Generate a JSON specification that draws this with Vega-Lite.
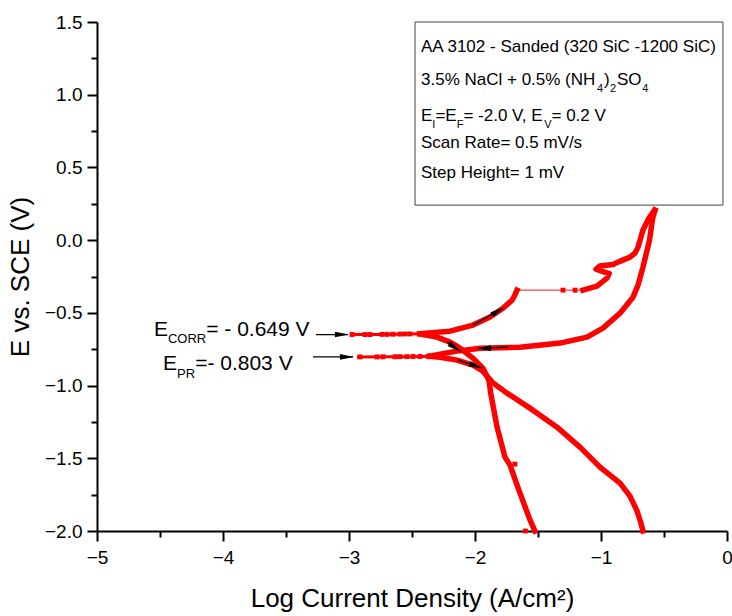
{
  "$schema": "https://vega.github.io/schema/vega-lite/v6.json",
  "width": 630,
  "height": 509,
  "autosize": {"type": "none"},
  "padding": {"left": 97, "top": 22, "right": 5, "bottom": 85},
  "background": "white",
  "config": {
    "view": {"stroke": null},
    "font": "Liberation Sans",
    "axis": {
      "grid": false,
      "domainColor": "black",
      "domainWidth": 2,
      "tickColor": "black",
      "tickWidth": 2,
      "labelFont": "Liberation Sans",
      "labelFontSize": 19,
      "labelColor": "black",
      "titleFont": "Liberation Sans",
      "titleFontSize": 26,
      "titleFontWeight": "normal",
      "titleColor": "black",
      "labelOverlap": false,
      "labelBound": false,
      "labelFlush": false
    }
  },
  "datasets": {
    "curves": [
      {"s": "ecorr_flat", "i": 0, "x": -2.99, "y": -0.649},
      {"s": "ecorr_flat", "i": 1, "x": -2.7, "y": -0.648},
      {"s": "ecorr_flat", "i": 2, "x": -2.44, "y": -0.643},

      {"s": "anodic_fwd", "i": 0, "x": -2.44, "y": -0.643},
      {"s": "anodic_fwd", "i": 1, "x": -2.198, "y": -0.626},
      {"s": "anodic_fwd", "i": 2, "x": -2.016, "y": -0.584},
      {"s": "anodic_fwd", "i": 3, "x": -1.881, "y": -0.529},
      {"s": "anodic_fwd", "i": 4, "x": -1.778, "y": -0.468},
      {"s": "anodic_fwd", "i": 5, "x": -1.706, "y": -0.413},
      {"s": "anodic_fwd", "i": 6, "x": -1.685, "y": -0.38},
      {"s": "anodic_fwd", "i": 7, "x": -1.667, "y": -0.344},

      {"s": "anodic_up", "i": 0, "x": -1.143, "y": -0.344},
      {"s": "anodic_up", "i": 1, "x": -1.032, "y": -0.316},
      {"s": "anodic_up", "i": 2, "x": -0.952, "y": -0.261},
      {"s": "anodic_up", "i": 3, "x": -0.935, "y": -0.23},
      {"s": "anodic_up", "i": 4, "x": -0.99, "y": -0.215},
      {"s": "anodic_up", "i": 5, "x": -1.04, "y": -0.2},
      {"s": "anodic_up", "i": 6, "x": -1.01, "y": -0.178},
      {"s": "anodic_up", "i": 7, "x": -0.905, "y": -0.168},
      {"s": "anodic_up", "i": 8, "x": -0.865, "y": -0.151},
      {"s": "anodic_up", "i": 9, "x": -0.77, "y": -0.117},
      {"s": "anodic_up", "i": 10, "x": -0.73, "y": -0.089},
      {"s": "anodic_up", "i": 11, "x": -0.706, "y": -0.048},
      {"s": "anodic_up", "i": 12, "x": -0.69, "y": 0.0},
      {"s": "anodic_up", "i": 13, "x": -0.667, "y": 0.07},
      {"s": "anodic_up", "i": 14, "x": -0.62, "y": 0.15},
      {"s": "anodic_up", "i": 15, "x": -0.575, "y": 0.206},

      {"s": "reverse", "i": 0, "x": -0.571, "y": 0.206},
      {"s": "reverse", "i": 1, "x": -0.59, "y": 0.15},
      {"s": "reverse", "i": 2, "x": -0.615, "y": 0.0},
      {"s": "reverse", "i": 3, "x": -0.667, "y": -0.186},
      {"s": "reverse", "i": 4, "x": -0.706, "y": -0.309},
      {"s": "reverse", "i": 5, "x": -0.746, "y": -0.392},
      {"s": "reverse", "i": 6, "x": -0.849, "y": -0.502},
      {"s": "reverse", "i": 7, "x": -0.984, "y": -0.605},
      {"s": "reverse", "i": 8, "x": -1.111, "y": -0.667},
      {"s": "reverse", "i": 9, "x": -1.325, "y": -0.708},
      {"s": "reverse", "i": 10, "x": -1.643, "y": -0.736},
      {"s": "reverse", "i": 11, "x": -1.96, "y": -0.743},
      {"s": "reverse", "i": 12, "x": -2.143, "y": -0.763},
      {"s": "reverse", "i": 13, "x": -2.278, "y": -0.784},
      {"s": "reverse", "i": 14, "x": -2.357, "y": -0.798},

      {"s": "epr_flat", "i": 0, "x": -2.937, "y": -0.803},
      {"s": "epr_flat", "i": 1, "x": -2.7, "y": -0.802},
      {"s": "epr_flat", "i": 2, "x": -2.5, "y": -0.801},
      {"s": "epr_flat", "i": 3, "x": -2.357, "y": -0.798},

      {"s": "cath_left", "i": 0, "x": -2.437, "y": -0.645},
      {"s": "cath_left", "i": 1, "x": -2.302, "y": -0.667},
      {"s": "cath_left", "i": 2, "x": -2.198, "y": -0.701},
      {"s": "cath_left", "i": 3, "x": -2.119, "y": -0.743},
      {"s": "cath_left", "i": 4, "x": -2.016, "y": -0.811},
      {"s": "cath_left", "i": 5, "x": -1.937, "y": -0.88},
      {"s": "cath_left", "i": 6, "x": -1.89, "y": -0.963},
      {"s": "cath_left", "i": 7, "x": -1.875, "y": -1.052},
      {"s": "cath_left", "i": 8, "x": -1.825, "y": -1.286},
      {"s": "cath_left", "i": 9, "x": -1.762, "y": -1.492},
      {"s": "cath_left", "i": 10, "x": -1.722, "y": -1.547},
      {"s": "cath_left", "i": 11, "x": -1.643, "y": -1.74},
      {"s": "cath_left", "i": 12, "x": -1.563, "y": -1.925},
      {"s": "cath_left", "i": 13, "x": -1.524, "y": -2.0},

      {"s": "cath_right", "i": 0, "x": -2.357, "y": -0.798},
      {"s": "cath_right", "i": 1, "x": -2.278, "y": -0.805},
      {"s": "cath_right", "i": 2, "x": -2.143, "y": -0.825},
      {"s": "cath_right", "i": 3, "x": -2.016, "y": -0.86},
      {"s": "cath_right", "i": 4, "x": -1.937, "y": -0.901},
      {"s": "cath_right", "i": 5, "x": -1.857, "y": -0.983},
      {"s": "cath_right", "i": 6, "x": -1.746, "y": -1.052},
      {"s": "cath_right", "i": 7, "x": -1.54, "y": -1.169},
      {"s": "cath_right", "i": 8, "x": -1.349, "y": -1.286},
      {"s": "cath_right", "i": 9, "x": -1.167, "y": -1.423},
      {"s": "cath_right", "i": 10, "x": -1.008, "y": -1.561},
      {"s": "cath_right", "i": 11, "x": -0.849, "y": -1.671},
      {"s": "cath_right", "i": 12, "x": -0.77, "y": -1.76},
      {"s": "cath_right", "i": 13, "x": -0.715, "y": -1.86},
      {"s": "cath_right", "i": 14, "x": -0.685, "y": -1.94},
      {"s": "cath_right", "i": 15, "x": -0.667, "y": -2.0}
    ],
    "gap": [
      {"i": 0, "x": -1.667, "y": -0.344},
      {"i": 1, "x": -1.143, "y": -0.344}
    ],
    "dots": [
      {"x": -2.976, "y": -0.649}, {"x": -2.873, "y": -0.649}, {"x": -2.833, "y": -0.649},
      {"x": -2.738, "y": -0.648}, {"x": -2.698, "y": -0.648}, {"x": -2.651, "y": -0.647},
      {"x": -2.595, "y": -0.646}, {"x": -2.556, "y": -0.645}, {"x": -2.516, "y": -0.645},
      {"x": -2.913, "y": -0.803}, {"x": -2.778, "y": -0.803}, {"x": -2.73, "y": -0.802},
      {"x": -2.635, "y": -0.802}, {"x": -2.595, "y": -0.801}, {"x": -2.54, "y": -0.801},
      {"x": -2.492, "y": -0.8}, {"x": -2.437, "y": -0.8}, {"x": -2.373, "y": -0.799},
      {"x": -1.302, "y": -0.344}, {"x": -1.206, "y": -0.344},
      {"x": -1.683, "y": -1.54}, {"x": -1.6, "y": -2.0}
    ],
    "arrows": [
      {"x": -3.262, "y": -0.649, "x2": -3.008, "y2": -0.649},
      {"x": -3.286, "y": -0.803, "x2": -2.968, "y2": -0.803},
      {"x": -2.016, "y": -0.584, "x2": -1.778, "y2": -0.468},
      {"x": -1.738, "y": -0.736, "x2": -1.976, "y2": -0.743},
      {"x": -2.222, "y": -0.701, "x2": -2.119, "y2": -0.763},
      {"x": -2.135, "y": -0.825, "x2": -1.944, "y2": -0.88}
    ],
    "heads": [
      {"x": -3.056, "y": -0.649, "a": 0},
      {"x": -3.016, "y": -0.803, "a": 0},
      {"x": -1.817, "y": -0.488, "a": 330},
      {"x": -1.929, "y": -0.743, "a": 180},
      {"x": -2.159, "y": -0.739, "a": 35},
      {"x": -1.992, "y": -0.866, "a": 18}
    ],
    "box": [
      {"x": -2.476, "x2": -0.032, "y": 1.5, "y2": 0.241}
    ],
    "ann_main": [
      {"x": -4.548, "y": -0.66, "t": "E"},
      {"x": -4.133, "y": -0.66, "t": "= - 0.649 V"},
      {"x": -4.476, "y": -0.894, "t": "E"},
      {"x": -4.221, "y": -0.894, "t": "=- 0.803 V"}
    ],
    "ann_sub": [
      {"x": -4.437, "y": -0.706, "t": "CORR"},
      {"x": -4.365, "y": -0.949, "t": "PR"}
    ],
    "leg_main": [
      {"x": -2.4286, "y": 1.293, "t": "AA 3102 - Sanded (320 SiC -1200 SiC)"},
      {"x": -2.4286, "y": 1.066, "t": "3.5% NaCl + 0.5% (NH"},
      {"x": -0.976, "y": 1.066, "t": ")"},
      {"x": -0.873, "y": 1.066, "t": "SO"},
      {"x": -2.4286, "y": 0.818, "t": "E"},
      {"x": -2.3143, "y": 0.818, "t": "=E"},
      {"x": -2.0921, "y": 0.818, "t": "= -2.0 V, E"},
      {"x": -1.3929, "y": 0.818, "t": "= 0.2 V"},
      {"x": -2.4286, "y": 0.633, "t": "Scan Rate= 0.5 mV/s"},
      {"x": -2.4286, "y": 0.426, "t": "Step Height= 1 mV"}
    ],
    "leg_sub": [
      {"x": -1.032, "y": 1.018, "t": "4"},
      {"x": -0.929, "y": 1.018, "t": "2"},
      {"x": -0.672, "y": 1.018, "t": "4"},
      {"x": -2.3389, "y": 0.77, "t": "I"},
      {"x": -2.1452, "y": 0.77, "t": "F"},
      {"x": -1.4508, "y": 0.77, "t": "V"}
    ]
  },
  "encoding": {
    "x": {
      "field": "x",
      "type": "quantitative",
      "scale": {"domain": [-5, 0], "nice": false, "zero": false},
      "axis": {
        "title": "Log Current Density (A/cm²)",
        "values": [-5, -4.5, -4, -3.5, -3, -2.5, -2, -1.5, -1, -0.5, 0],
        "labelExpr": "datum.value % 1 === 0 ? format(datum.value, 'd') : ''",
        "tickSize": {"condition": {"test": "datum.value % 1 !== 0", "value": 6}, "value": 10},
        "labelPadding": 7,
        "titlePadding": 18
      }
    },
    "y": {
      "field": "y",
      "type": "quantitative",
      "scale": {"domain": [-2, 1.5], "nice": false, "zero": false},
      "axis": {
        "title": "E vs. SCE (V)",
        "values": [-2, -1.75, -1.5, -1.25, -1, -0.75, -0.5, -0.25, 0, 0.25, 0.5, 0.75, 1, 1.25, 1.5],
        "labelExpr": "abs(datum.value * 2 - round(datum.value * 2)) < 0.001 ? format(datum.value, '.1f') : ''",
        "tickSize": {"condition": {"test": "abs(datum.value * 2 - round(datum.value * 2)) > 0.001", "value": 6}, "value": 10},
        "labelPadding": 5,
        "titlePadding": 11
      }
    }
  },
  "layer": [
    {
      "data": {"name": "box"},
      "mark": {"type": "rect", "fill": "white", "stroke": "#444444", "strokeWidth": 1},
      "encoding": {"x2": {"field": "x2"}, "y2": {"field": "y2"}}
    },
    {
      "data": {"name": "gap"},
      "mark": {"type": "line", "color": "#ff4040", "strokeWidth": 1.3},
      "encoding": {"order": {"field": "i", "type": "quantitative"}}
    },
    {
      "data": {"name": "curves"},
      "transform": [{"filter": "datum.s === 'ecorr_flat' || datum.s === 'epr_flat'"}],
      "mark": {"type": "line", "color": "#ff0000", "strokeWidth": 3},
      "encoding": {"detail": {"field": "s"}, "order": {"field": "i", "type": "quantitative"}}
    },
    {
      "data": {"name": "curves"},
      "transform": [{"filter": "datum.s !== 'ecorr_flat' && datum.s !== 'epr_flat'"}],
      "mark": {"type": "line", "color": "#ff0000", "strokeWidth": 5.5, "strokeJoin": "round", "strokeCap": "square"},
      "encoding": {"detail": {"field": "s"}, "order": {"field": "i", "type": "quantitative"}}
    },
    {
      "data": {"name": "dots"},
      "mark": {"type": "point", "shape": "square", "filled": true, "color": "#ff0000", "size": 24, "opacity": 1}
    },
    {
      "data": {"name": "arrows"},
      "mark": {"type": "rule", "color": "black", "strokeWidth": 1.3},
      "encoding": {"x2": {"field": "x2"}, "y2": {"field": "y2"}}
    },
    {
      "data": {"name": "heads"},
      "mark": {"type": "point", "shape": "M-1,-0.4L1,0L-1,0.4Z", "filled": true, "color": "black", "size": 200, "opacity": 1, "strokeWidth": 0},
      "encoding": {"angle": {"field": "a", "type": "quantitative", "scale": null}}
    },
    {
      "data": {"name": "ann_main"},
      "mark": {"type": "text", "align": "left", "baseline": "alphabetic", "fontSize": 21, "font": "Liberation Sans", "color": "black"},
      "encoding": {"text": {"field": "t"}}
    },
    {
      "data": {"name": "ann_sub"},
      "mark": {"type": "text", "align": "left", "baseline": "alphabetic", "fontSize": 13, "font": "Liberation Sans", "color": "black"},
      "encoding": {"text": {"field": "t"}}
    },
    {
      "data": {"name": "leg_main"},
      "mark": {"type": "text", "align": "left", "baseline": "alphabetic", "fontSize": 17, "font": "Liberation Sans", "color": "black"},
      "encoding": {"text": {"field": "t"}}
    },
    {
      "data": {"name": "leg_sub"},
      "mark": {"type": "text", "align": "left", "baseline": "alphabetic", "fontSize": 11, "font": "Liberation Sans", "color": "black"},
      "encoding": {"text": {"field": "t"}}
    }
  ]
}
